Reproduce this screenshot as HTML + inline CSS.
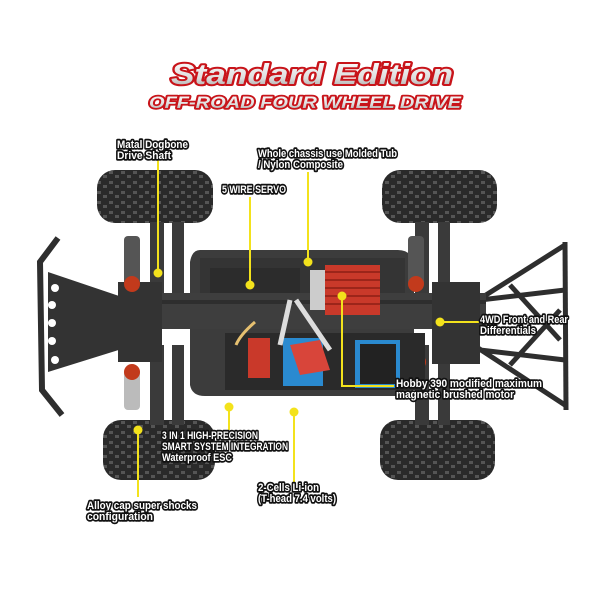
<!DOCTYPE html>
<html><head><meta charset="utf-8"><style>
html,body{margin:0;padding:0;background:#fff;width:600px;height:600px;overflow:hidden}
svg{display:block}
.lb{font-family:"Liberation Sans",sans-serif;font-weight:bold;font-size:11px;fill:#fff;stroke:#111;stroke-width:3.5px;paint-order:stroke;stroke-linejoin:round}
.ln{stroke:#f3e21c;stroke-width:2;fill:none}
.dt{fill:#f3e21c}
</style></head><body>
<svg width="600" height="600" viewBox="0 0 600 600">
<defs>
<pattern id="tr" width="12" height="10" patternUnits="userSpaceOnUse">
<rect width="12" height="10" fill="#2a2a2a"/>
<path d="M1 1h4v3h-4zM7 5h4v3h-4z" fill="#555"/>
</pattern>
<linearGradient id="sil" x1="0" y1="0" x2="0" y2="1"><stop offset="0" stop-color="#fff"/><stop offset="0.6" stop-color="#ddd"/><stop offset="1" stop-color="#999"/></linearGradient>
</defs>

<text x="312" y="84" text-anchor="middle" font-family="Liberation Sans,sans-serif" font-weight="bold" font-style="italic" font-size="29" fill="url(#sil)" stroke="#c8141a" stroke-width="4" paint-order="stroke" stroke-linejoin="round" textLength="282" lengthAdjust="spacingAndGlyphs">Standard Edition</text>
<text x="305" y="108" text-anchor="middle" font-family="Liberation Sans,sans-serif" font-weight="bold" font-style="italic" font-size="17" fill="url(#sil)" stroke="#c8141a" stroke-width="3.5" paint-order="stroke" stroke-linejoin="round" textLength="312" lengthAdjust="spacingAndGlyphs">OFF-ROAD FOUR WHEEL DRIVE</text>

<rect x="97" y="170" width="116" height="53" rx="18" fill="url(#tr)"/>
<rect x="382" y="170" width="115" height="53" rx="18" fill="url(#tr)"/>
<rect x="103" y="420" width="112" height="60" rx="18" fill="url(#tr)"/>
<rect x="380" y="420" width="115" height="60" rx="18" fill="url(#tr)"/>

<g fill="#3a3a3a">
<rect x="150" y="222" width="14" height="80"/><rect x="172" y="222" width="12" height="80"/>
<rect x="150" y="345" width="14" height="80"/><rect x="172" y="345" width="12" height="80"/>
<rect x="415" y="222" width="14" height="80"/><rect x="438" y="222" width="12" height="80"/>
<rect x="415" y="345" width="14" height="80"/><rect x="438" y="345" width="12" height="80"/>
</g>

<path d="M48 272 L125 298 L125 348 L48 372 Z" fill="#333"/>
<path d="M58 238 L40 262 L42 390 L62 415" stroke="#2e2e2e" stroke-width="6" fill="none"/>
<g fill="#fff"><circle cx="55" cy="288" r="4"/><circle cx="52" cy="305" r="4"/><circle cx="52" cy="323" r="4"/><circle cx="52" cy="341" r="4"/><circle cx="55" cy="360" r="4"/></g>

<g stroke="#2e2e2e" stroke-width="5" fill="none">
<path d="M565 242 L566 410"/>
<path d="M565 245 L478 300 M565 405 L478 348 M480 300 L565 290 M480 350 L565 360 M510 285 L560 340 M510 365 L560 310"/>
</g>

<path d="M200 250 H398 Q412 250 414 265 V388 Q412 396 400 396 H205 Q192 396 190 385 V262 Q192 250 200 250 Z" fill="#3c3c3c"/>
<rect x="200" y="258" width="205" height="40" fill="#343434"/>
<rect x="210" y="268" width="90" height="30" fill="#2c2c2c"/>
<rect x="118" y="293" width="368" height="36" fill="#3e3e3e"/>
<rect x="118" y="300" width="368" height="4" fill="#2e2e2e"/>
<rect x="118" y="282" width="44" height="80" fill="#333"/>
<rect x="432" y="282" width="48" height="82" fill="#333"/>
<g><rect x="124" y="236" width="16" height="50" rx="4" fill="#555"/><circle cx="132" cy="284" r="8" fill="#c23a1c"/>
<rect x="124" y="368" width="16" height="42" rx="4" fill="#bbb"/><circle cx="132" cy="372" r="8" fill="#c23a1c"/>
<rect x="408" y="236" width="16" height="50" rx="4" fill="#555"/><circle cx="416" cy="284" r="8" fill="#c23a1c"/>
<circle cx="418" cy="362" r="8" fill="#c23a1c"/></g>
<rect x="310" y="270" width="20" height="40" fill="#ccc"/>
<rect x="325" y="265" width="55" height="50" fill="#c9392a"/>
<g stroke="#8e1f14" stroke-width="1.5"><path d="M325 272h55M325 280h55M325 288h55M325 296h55M325 304h55"/></g>
<rect x="225" y="333" width="200" height="57" fill="#2a2a2a"/>
<rect x="283" y="338" width="40" height="48" fill="#2a8ad0"/>
<rect x="355" y="340" width="45" height="48" fill="#2a8ad0"/>
<rect x="360" y="344" width="36" height="40" fill="#222"/>
<path d="M290 345 L320 340 L330 370 L300 375 Z" fill="#d8453a"/>
<rect x="248" y="338" width="22" height="40" fill="#c9392a"/>
<path d="M290 300 L280 345 M296 300 L330 350" stroke="#ddd" stroke-width="5"/>
<path d="M255 322 Q240 335 236 345" stroke="#e6c070" stroke-width="3" fill="none"/>

<path class="ln" d="M158 160 V273"/><circle class="dt" cx="158" cy="273" r="4.5"/>
<path class="ln" d="M308 172 V262"/><circle class="dt" cx="308" cy="262" r="4.5"/>
<path class="ln" d="M250 197 V285"/><circle class="dt" cx="250" cy="285" r="4.5"/>
<path class="ln" d="M440 322 H482"/><circle class="dt" cx="440" cy="322" r="4.5"/>
<path class="ln" d="M342 296 V386 H394"/><circle class="dt" cx="342" cy="296" r="4.5"/>
<path class="ln" d="M229 407 V430"/><circle class="dt" cx="229" cy="407" r="4.5"/>
<path class="ln" d="M294 412 V482"/><circle class="dt" cx="294" cy="412" r="4.5"/>
<path class="ln" d="M138 430 V497"/><circle class="dt" cx="138" cy="430" r="4.5"/>

<g class="lb" lengthAdjust="spacingAndGlyphs">
<text x="117" y="148" textLength="71" lengthAdjust="spacingAndGlyphs">Matal Dogbone</text>
<text x="117" y="159" textLength="54" lengthAdjust="spacingAndGlyphs">Drive Shaft</text>
<text x="258" y="157" textLength="139" lengthAdjust="spacingAndGlyphs">Whole chassis use Molded Tub</text>
<text x="258" y="168" textLength="85" lengthAdjust="spacingAndGlyphs">/ Nylon Composite</text>
<text x="222" y="193" textLength="64" lengthAdjust="spacingAndGlyphs">5 WIRE SERVO</text>
<text x="480" y="323" textLength="88" lengthAdjust="spacingAndGlyphs">4WD Front and Rear</text>
<text x="480" y="334" textLength="56" lengthAdjust="spacingAndGlyphs">Differentials</text>
<text x="396" y="387" textLength="146" lengthAdjust="spacingAndGlyphs">Hobby 390 modified maximum</text>
<text x="396" y="398" textLength="118" lengthAdjust="spacingAndGlyphs">magnetic brushed motor</text>
<text x="162" y="439" textLength="96" lengthAdjust="spacingAndGlyphs">3 IN 1 HIGH-PRECISION</text>
<text x="162" y="450" textLength="126" lengthAdjust="spacingAndGlyphs">SMART SYSTEM INTEGRATION</text>
<text x="162" y="461" textLength="70" lengthAdjust="spacingAndGlyphs">Waterproof ESC</text>
<text x="258" y="491" textLength="61" lengthAdjust="spacingAndGlyphs">2-Cells  Li-ion</text>
<text x="258" y="502" textLength="78" lengthAdjust="spacingAndGlyphs">(T-head 7.4 volts)</text>
<text x="87" y="509" textLength="110" lengthAdjust="spacingAndGlyphs">Alloy cap super shocks</text>
<text x="87" y="520" textLength="66" lengthAdjust="spacingAndGlyphs">configuration</text>
</g>
</svg>
</body></html>
